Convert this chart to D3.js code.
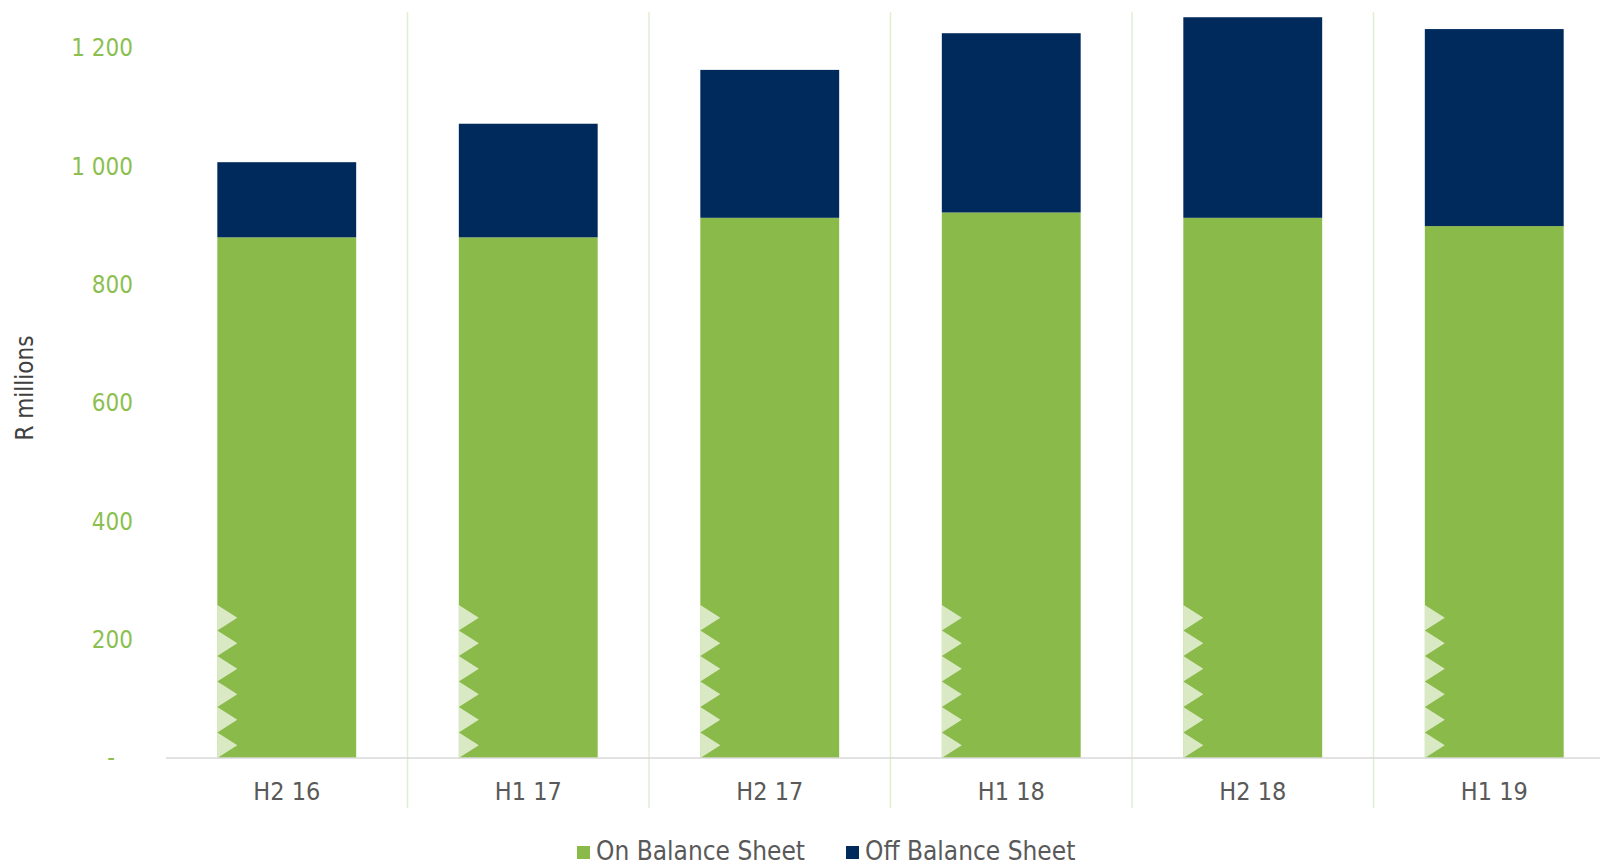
<!DOCTYPE html>
<html>
<head>
<meta charset="utf-8">
<script src="https://cdn.jsdelivr.net/npm/d3@7"></script>
<style>
  html, body { margin: 0; padding: 0; background: #ffffff; }
  svg { display: block; }
  text { font-family: "DejaVu Sans Condensed", "DejaVu Sans", sans-serif; }
</style>
</head>
<body>
<svg id="chart" width="1600" height="866"></svg>
<script>
// Half-year periods
const categories = ["H2 16", "H1 17", "H2 17", "H1 18", "H2 18", "H1 19"];
// R millions
const onBalance  = [880, 880, 913, 922, 913, 899];
const offBalance = [127, 192, 250, 303, 339, 333];
const seriesNames = ["On Balance Sheet", "Off Balance Sheet"];
const yTicks = [0, 200, 400, 600, 800, 1000, 1200];

const GREEN = "#8aba4a";
const NAVY = "#002a5c";

const svg = d3.select("#chart");

const x = d3.scaleBand()
  .domain(categories)
  .range([166, 1615])
  .paddingInner(0.425)
  .paddingOuter(0.2125);

const y = d3.scaleLinear()
  .domain([0, 1200])
  .range([758, 48]);

const rows = categories.map((c, i) => ({ cat: c, on: onBalance[i], off: offBalance[i] }));
const stacked = d3.stack().keys(["on", "off"])(rows);
const colors = [GREEN, NAVY];

// Category separators
const step = x.step();
const bounds = categories.slice(1).map(c => x(c) - step * x.paddingInner() / 2);
svg.append("g")
  .selectAll("line")
  .data(bounds)
  .join("line")
  .attr("x1", d => d).attr("x2", d => d)
  .attr("y1", 12).attr("y2", 808)
  .attr("stroke", "#e0eed3")
  .attr("stroke-width", 1.5);

// Stacked bars
svg.append("g")
  .selectAll("g")
  .data(stacked)
  .join("g")
  .attr("fill", (d, i) => colors[i])
  .selectAll("rect")
  .data(d => d)
  .join("rect")
  .attr("x", d => x(d.data.cat))
  .attr("y", d => y(d[1]))
  .attr("width", x.bandwidth())
  .attr("height", d => y(d[0]) - y(d[1]));

// Sawtooth accent on the left edge of each bar
const toothH = 25.5, toothW = 20, teeth = 6;
svg.append("g")
  .selectAll("path")
  .data(categories)
  .join("path")
  .attr("fill", "#ffffff")
  .attr("fill-opacity", 0.68)
  .attr("d", c => {
    const x0 = x(c), base = y(0);
    let p = "";
    for (let k = 0; k < teeth; k++) {
      const b = base - k * toothH;
      p += `M${x0},${b} L${x0 + toothW},${b - toothH / 2} L${x0},${b - toothH} Z `;
    }
    return p;
  });

// Baseline
svg.append("line")
  .attr("x1", 166).attr("x2", 1600)
  .attr("y1", y(0)).attr("y2", y(0))
  .attr("stroke", "#d9d9d9")
  .attr("stroke-width", 1.5);

// Y axis labels
const fmt = v => v === 0 ? "-" : d3.format(",")(v).replace(/,/g, " ");
const yAxis = d3.axisLeft(y).tickValues(yTicks).tickFormat(fmt).tickSize(0).tickPadding(0);
const yg = svg.append("g").attr("transform", "translate(133,0)").call(yAxis);
yg.select(".domain").remove();
yg.selectAll("text")
  .attr("fill", "#8cbf4f")
  .attr("font-size", 24)
  .attr("font-family", "'DejaVu Sans Condensed', 'DejaVu Sans', sans-serif")
  .attr("dx", d => d === 0 ? -18 : 0);

// X axis labels
const xAxis = d3.axisBottom(x).tickSize(0).tickPadding(0);
const xg = svg.append("g").attr("transform", `translate(0,${y(0)})`).call(xAxis);
xg.select(".domain").remove();
xg.selectAll("text")
  .attr("fill", "#595959")
  .attr("font-size", 25)
  .attr("font-family", "'DejaVu Sans Condensed', 'DejaVu Sans', sans-serif")
  .attr("dy", null)
  .attr("y", 42);

// Y axis title
svg.append("text")
  .attr("transform", "translate(33,388) rotate(-90)")
  .attr("text-anchor", "middle")
  .attr("fill", "#404040")
  .attr("font-size", 24)
  .text("R millions");

// Legend
const legendX = [577, 846];
const lg = svg.append("g")
  .selectAll("g")
  .data(seriesNames)
  .join("g")
  .attr("transform", (d, i) => `translate(${legendX[i]},0)`);
lg.append("rect")
  .attr("x", 0).attr("y", 846)
  .attr("width", 13).attr("height", 13)
  .attr("fill", (d, i) => colors[i]);
lg.append("text")
  .attr("x", 19)
  .attr("y", 859.5)
  .attr("fill", "#595959")
  .attr("font-size", 26)
  .text(d => d);
</script>
</body>
</html>
